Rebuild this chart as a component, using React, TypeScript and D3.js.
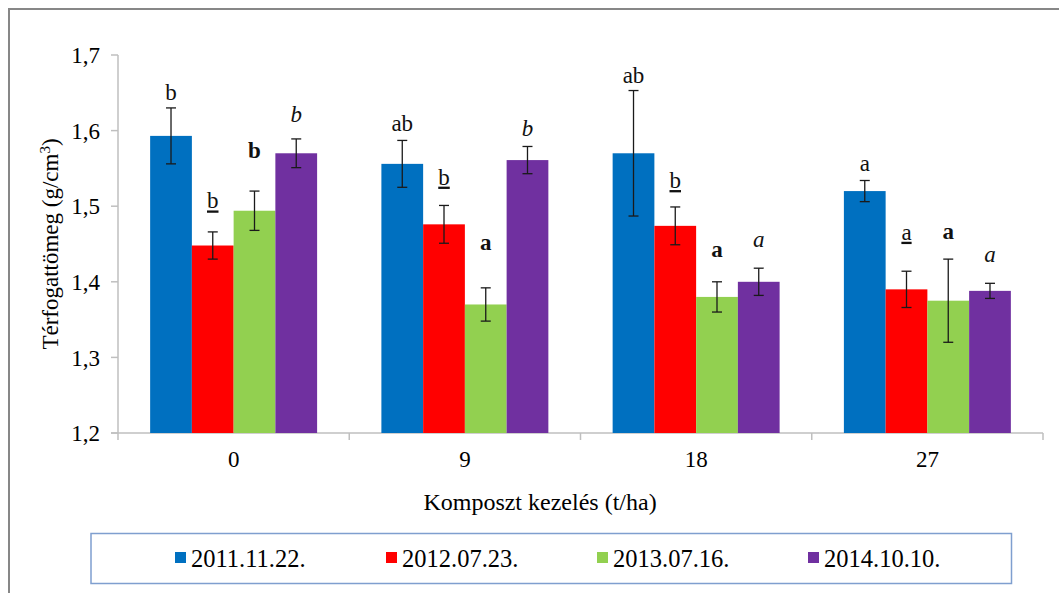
import React from "react"
import * as d3 from "d3"

// kezelések (t/ha)
const categories = ["0", "9", "18", "27"]
const seriesNames = ["2011.11.22.", "2012.07.23.", "2013.07.16.", "2014.10.10."]
const colors = ["#0070C0", "#FF0000", "#92D050", "#7030A0"]

// térfogattömeg átlag, soronként egy dátum
const v2011 = [1.593, 1.556, 1.57, 1.52]
const v2012 = [1.448, 1.476, 1.474, 1.39]
const v2013 = [1.494, 1.37, 1.38, 1.375]
const v2014 = [1.57, 1.561, 1.4, 1.388]

// szórás (hibasáv)
const e2011 = [0.037, 0.031, 0.083, 0.014]
const e2012 = [0.018, 0.025, 0.025, 0.024]
const e2013 = [0.026, 0.022, 0.02, 0.055]
const e2014 = [0.019, 0.018, 0.018, 0.01]

// szignifikancia betűk és hogy milyen magasan (g/cm3) állnak
const letters2011 = ["b", "ab", "ab", "a"]
const letters2012 = ["b", "b", "b", "a"]
const letters2013 = ["b", "a", "a", "a"]
const letters2014 = ["b", "b", "a", "a"]
const lvl2011 = [1.64, 1.599, 1.663, 1.547]
const lvl2012 = [1.497, 1.5285, 1.524, 1.4556]
const lvl2013 = [1.564, 1.4415, 1.4327, 1.457]
const lvl2014 = [1.612, 1.5934, 1.446, 1.426]

const yTicks = [1.2, 1.3, 1.4, 1.5, 1.6, 1.7]

const values = [v2011, v2012, v2013, v2014]
const errors = [e2011, e2012, e2013, e2014]
const letters = [letters2011, letters2012, letters2013, letters2014]
const levels = [lvl2011, lvl2012, lvl2013, lvl2014]
const letterStyle = [
  {},
  { textDecoration: "underline" },
  { fontWeight: "bold" },
  { fontStyle: "italic" },
]

const W = 1059,
  H = 593
const font = "Liberation Serif, Tinos, DejaVu Serif, serif"

export default function App() {
  const margin = { left: 118, right: 16, top: 55, bottom: 160 }
  const x0 = d3
    .scaleBand()
    .domain(categories)
    .range([margin.left, W - margin.right])
    .paddingInner(0)
  const x1 = d3
    .scaleBand()
    .domain(seriesNames)
    .range([0, x0.bandwidth()])
    .paddingInner(0)
    .paddingOuter(0.77)
  const y = d3.scaleLinear().domain([1.2, 1.7]).range([H - margin.bottom, margin.top])
  const fmt = (d: number) => d3.format(".1f")(d).replace(".", ",")
  const y0 = y(1.2)
  const xEnd = W - margin.right

  const legendX = d3.scaleBand().domain(seriesNames).range([175, 1019])

  return (
    <svg
      width={W}
      height={H}
      style={{ position: "absolute", left: 0, top: 0, background: "#fff", fontFamily: font }}
    >
      <rect x={9} y={9} width={W + 20} height={H + 20} fill="none" stroke="#878787" strokeWidth={2} />

      {/* tengelyek */}
      <line x1={margin.left} x2={margin.left} y1={y(1.7)} y2={y0} stroke="#BFBFBF" strokeWidth={1.5} />
      {yTicks.map(t => (
        <g key={t}>
          <line x1={margin.left - 7} x2={margin.left} y1={y(t)} y2={y(t)} stroke="#BFBFBF" strokeWidth={1.5} />
          <text x={100} y={y(t)} dy="0.36em" textAnchor="end" fontSize={23} fill="#000">
            {fmt(t)}
          </text>
        </g>
      ))}
      <line x1={margin.left - 7} x2={xEnd} y1={y0} y2={y0} stroke="#BFBFBF" strokeWidth={1.5} />
      {[...categories.map(c => x0(c)!), xEnd].map((px, i) => (
        <line key={i} x1={px} x2={px} y1={y0} y2={y0 + 7} stroke="#BFBFBF" strokeWidth={1.5} />
      ))}
      {categories.map(c => (
        <text key={c} x={x0(c)! + x0.bandwidth() / 2} y={467} textAnchor="middle" fontSize={23}>
          {c}
        </text>
      ))}

      {/* oszlopok */}
      {seriesNames.map((s, si) =>
        categories.map((c, ci) => {
          const bx = x0(c)! + x1(s)!
          const v = values[si][ci]
          const e = errors[si][ci]
          const cx = bx + x1.bandwidth() / 2
          return (
            <g key={s + c}>
              <rect x={bx} y={y(v)} width={x1.bandwidth()} height={y0 - y(v)} fill={colors[si]} />
              <g stroke="#1a1a1a" strokeWidth={1.3}>
                <line x1={cx} x2={cx} y1={y(v + e)} y2={y(v - e)} />
                <line x1={cx - 5} x2={cx + 5} y1={y(v + e)} y2={y(v + e)} />
                <line x1={cx - 5} x2={cx + 5} y1={y(v - e)} y2={y(v - e)} />
              </g>
              <text
                x={cx}
                y={y(levels[si][ci])}
                textAnchor="middle"
                fontSize={23}
                fill="#111"
                style={letterStyle[si]}
              >
                {letters[si][ci]}
              </text>
            </g>
          )
        })
      )}

      {/* tengelycímek */}
      <text x={540} y={510} textAnchor="middle" fontSize={24}>
        Komposzt kezelés (t/ha)
      </text>
      <text transform={`translate(58, ${(y(1.7) + y0) / 2}) rotate(-90)`} textAnchor="middle" fontSize={23}>
        Térfogattömeg (g/cm
        <tspan dy={-8} fontSize={15}>
          3
        </tspan>
        <tspan dy={8}>)</tspan>
      </text>

      {/* jelmagyarázat */}
      <rect x={91} y={533.5} width={920.5} height={50} fill="#fff" stroke="#7F9FCF" strokeWidth={1.5} />
      {seriesNames.map((s, i) => (
        <g key={s} transform={`translate(${legendX(s)}, 0)`}>
          <rect x={0} y={552} width={11} height={11} fill={colors[i]} />
          <text x={16} y={566.5} fontSize={24.5}>
            {s}
          </text>
        </g>
      ))}
    </svg>
  )
}
